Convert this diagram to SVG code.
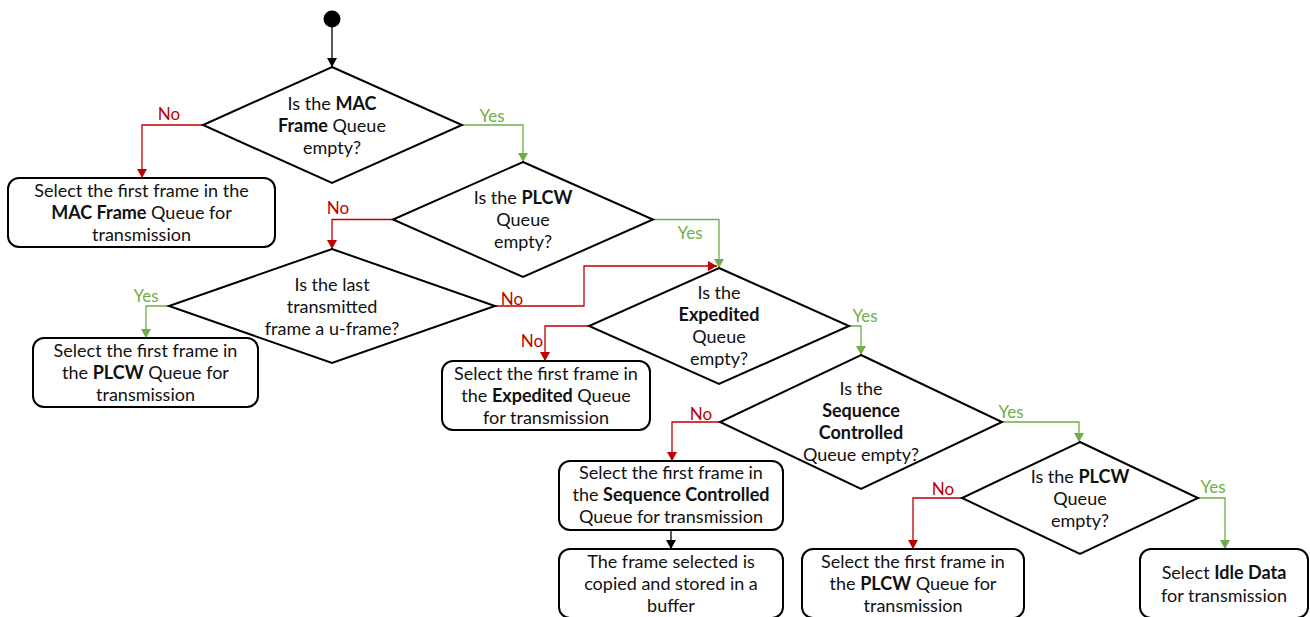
<svg xmlns="http://www.w3.org/2000/svg" width="1310" height="617" viewBox="0 0 1310 617">
  <defs>
    <style>
      .shape { fill: #fff; stroke: #000; stroke-width: 2; stroke-linejoin: miter; }
      .t { font-family: Lato, "Open Sans", sans-serif; font-size: 18px; fill: #111; text-anchor: middle; }
      .b { font-weight: bold; }
      .lbl { font-family: Lato, "Open Sans", sans-serif; font-size: 17px; text-anchor: middle; }
      .no { fill: #C00000; }
      .yes { fill: #70AD47; }
      .c { fill: none; stroke-width: 1.3; }
      .c-black { stroke: #000; marker-end: url(#ah-black); }
      .c-red { stroke: #C00000; marker-end: url(#ah-red); }
      .c-green { stroke: #70AD47; marker-end: url(#ah-green); }
    </style>
    <marker id="ah-black" markerUnits="userSpaceOnUse" markerWidth="10" markerHeight="10" refX="9" refY="5" orient="auto">
      <path d="M0,0 L9,5 L0,10 z" fill="#000"/>
    </marker>
    <marker id="ah-red" markerUnits="userSpaceOnUse" markerWidth="10" markerHeight="10" refX="9" refY="5" orient="auto">
      <path d="M0,0 L9,5 L0,10 z" fill="#C00000"/>
    </marker>
    <marker id="ah-green" markerUnits="userSpaceOnUse" markerWidth="10" markerHeight="10" refX="9" refY="5" orient="auto">
      <path d="M0,0 L9,5 L0,10 z" fill="#70AD47"/>
    </marker>
  </defs>

  <rect width="1310" height="617" fill="#fff"/>

  <!-- connectors -->
  <g id="connectors">
    <path class="c c-black" d="M332,27 V67"/>
    <path class="c c-red" d="M203,125 H142 V178"/>
    <path class="c c-green" d="M462,125 H523 V162"/>
    <path class="c c-red" d="M393,219.5 H332 V249"/>
    <path class="c c-green" d="M653,219.5 H719 V268"/>
    <path class="c c-green" d="M169,306 H146 V338"/>
    <path class="c c-red" d="M495,306 H584 V266 H717"/>
    <path class="c c-red" d="M589,326 H545 V361"/>
    <path class="c c-green" d="M849,326 H861 V355"/>
    <path class="c c-red" d="M720,422 H672 V461"/>
    <path class="c c-green" d="M1002,422 H1079 V442"/>
    <path class="c c-black" d="M671,530 V549"/>
    <path class="c c-red" d="M962,498 H913 V549"/>
    <path class="c c-green" d="M1198,498 H1225 V549"/>

    <text class="lbl no" x="169" y="120">No</text>
    <text class="lbl yes" x="492" y="122">Yes</text>
    <text class="lbl no" x="338" y="214">No</text>
    <text class="lbl yes" x="690" y="239">Yes</text>
    <text class="lbl yes" x="146" y="302">Yes</text>
    <text class="lbl no" x="512" y="305">No</text>
    <text class="lbl no" x="532" y="347">No</text>
    <text class="lbl yes" x="865" y="322">Yes</text>
    <text class="lbl no" x="701" y="420">No</text>
    <text class="lbl yes" x="1011" y="418">Yes</text>
    <text class="lbl no" x="943" y="495">No</text>
    <text class="lbl yes" x="1213" y="493">Yes</text>
  </g>

  <!-- start -->
  <g id="start">
    <circle cx="332" cy="19" r="8.5" fill="#000"/>
  </g>

  <!-- decisions -->
  <g id="dec-mac">
    <polygon class="shape" points="332,67 462,125 332,183 203,125"/>
    <text class="t" x="332" y="110">Is the <tspan class="b">MAC</tspan></text>
    <text class="t" x="332" y="132"><tspan class="b">Frame</tspan> Queue</text>
    <text class="t" x="332" y="154">empty?</text>
  </g>

  <g id="dec-plcw1">
    <polygon class="shape" points="523,162 653,219.5 523,277 393,219.5"/>
    <text class="t" x="523" y="204">Is the <tspan class="b">PLCW</tspan></text>
    <text class="t" x="523" y="226">Queue</text>
    <text class="t" x="523" y="248">empty?</text>
  </g>

  <g id="dec-uframe">
    <polygon class="shape" points="332,249 495,306 332,363 169,306"/>
    <text class="t" x="332" y="291">Is the last</text>
    <text class="t" x="332" y="313">transmitted</text>
    <text class="t" x="332" y="335">frame a u-frame?</text>
  </g>

  <g id="dec-expedited">
    <polygon class="shape" points="719,268 849,326 719,384 589,326"/>
    <text class="t" x="719" y="299">Is the</text>
    <text class="t b" x="719" y="321">Expedited</text>
    <text class="t" x="719" y="343">Queue</text>
    <text class="t" x="719" y="365">empty?</text>
  </g>

  <g id="dec-seqctrl">
    <polygon class="shape" points="861,355 1002,422 861,489 720,422"/>
    <text class="t" x="861" y="395">Is the</text>
    <text class="t b" x="861" y="417">Sequence</text>
    <text class="t b" x="861" y="439">Controlled</text>
    <text class="t" x="861" y="461">Queue empty?</text>
  </g>

  <g id="dec-plcw2">
    <polygon class="shape" points="1080,442 1198,498 1080,554 962,498"/>
    <text class="t" x="1080" y="483">Is the <tspan class="b">PLCW</tspan></text>
    <text class="t" x="1080" y="505">Queue</text>
    <text class="t" x="1080" y="527">empty?</text>
  </g>

  <!-- actions -->
  <g id="act-mac">
    <rect class="shape" x="8" y="178" width="267" height="69" rx="11"/>
    <text class="t" x="141.5" y="197">Select the first frame in the</text>
    <text class="t" x="141.5" y="219"><tspan class="b">MAC Frame</tspan> Queue for</text>
    <text class="t" x="141.5" y="241">transmission</text>
  </g>

  <g id="act-plcw1">
    <rect class="shape" x="33" y="338" width="225" height="69" rx="11"/>
    <text class="t" x="145.5" y="357">Select the first frame in</text>
    <text class="t" x="145.5" y="379">the <tspan class="b">PLCW</tspan> Queue for</text>
    <text class="t" x="145.5" y="401">transmission</text>
  </g>

  <g id="act-expedited">
    <rect class="shape" x="442" y="361" width="208" height="69" rx="11"/>
    <text class="t" x="546" y="380">Select the first frame in</text>
    <text class="t" x="546" y="402">the <tspan class="b">Expedited</tspan> Queue</text>
    <text class="t" x="546" y="424">for transmission</text>
  </g>

  <g id="act-seqctrl">
    <rect class="shape" x="559" y="461" width="224" height="69" rx="11"/>
    <text class="t" x="671" y="479">Select the first frame in</text>
    <text class="t" x="671" y="501">the <tspan class="b">Sequence Controlled</tspan></text>
    <text class="t" x="671" y="523">Queue for transmission</text>
  </g>

  <g id="act-buffer">
    <rect class="shape" x="559" y="549" width="224" height="69" rx="11"/>
    <text class="t" x="671" y="568">The frame selected is</text>
    <text class="t" x="671" y="590">copied and stored in a</text>
    <text class="t" x="671" y="612">buffer</text>
  </g>

  <g id="act-plcw2">
    <rect class="shape" x="802" y="549" width="222" height="69" rx="11"/>
    <text class="t" x="913" y="568">Select the first frame in</text>
    <text class="t" x="913" y="590">the <tspan class="b">PLCW</tspan> Queue for</text>
    <text class="t" x="913" y="612">transmission</text>
  </g>

  <g id="act-idle">
    <rect class="shape" x="1140" y="549" width="168" height="69" rx="11"/>
    <text class="t" x="1224" y="579">Select <tspan class="b">Idle Data</tspan></text>
    <text class="t" x="1224" y="602">for transmission</text>
  </g>
</svg>
